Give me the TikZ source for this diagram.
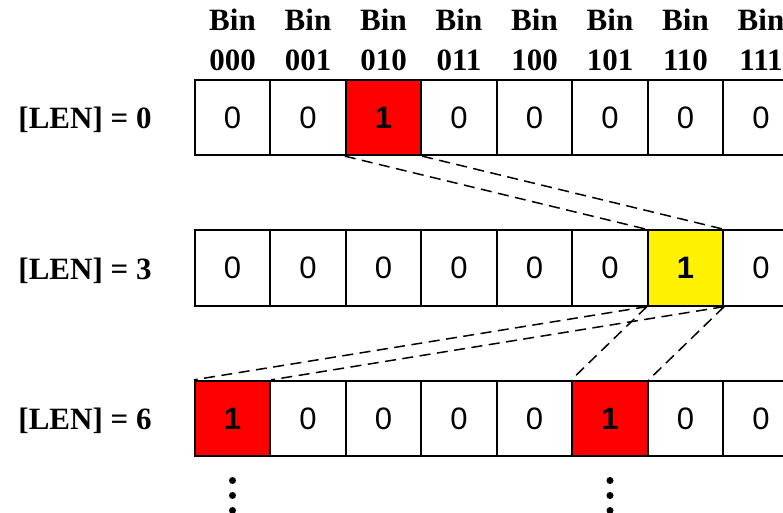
\documentclass[tikz,border=0pt]{standalone}
\usepackage{fontspec}
\setmainfont{Liberation Serif}
\setsansfont{Liberation Sans}
\usetikzlibrary{positioning}

\tikzset{
  bit/.style={draw,line width=1.8pt,minimum size=75.5pt,inner sep=0pt,
    font=\sffamily\fontsize{31}{34}\selectfont},
  hit/.style={bit,fill=red,font=\sffamily\bfseries\fontsize{31}{34}\selectfont},
  mid/.style={hit,fill=yellow},
  bin/.style={align=center,font=\bfseries\fontsize{31}{40}\selectfont},
  len/.style={anchor=base,font=\bfseries\fontsize{31}{34}\selectfont},
  link/.style={line width=1.5pt,dash pattern=on 11pt off 6.5pt},
  vdot/.style={circle,fill,inner sep=0pt,minimum size=7pt}
}

\begin{document}
\begin{tikzpicture}[x=1pt,y=1pt,node distance=75.5pt,on grid]
   \useasboundingbox (0,0) rectangle (783,-513);
   % row for [LEN] = 0
   \node[bit] (a1) at (232.5,-117.5) {0};
   \node[bit] (a2) [right=of a1] {0};
   \node[hit] (a3) [right=of a2] {1};
   \node[bit] (a4) [right=of a3] {0};
   \node[bit] (a5) [right=of a4] {0};
   \node[bit] (a6) [right=of a5] {0};
   \node[bit] (a7) [right=of a6] {0};
   \node[bit] (a8) [right=of a7] {0};
   % row for [LEN] = 3
   \node[bit] (b1) [below=150.5pt of a1] {0};
   \node[bit] (b2) [right=of b1] {0};
   \node[bit] (b3) [right=of b2] {0};
   \node[bit] (b4) [right=of b3] {0};
   \node[bit] (b5) [right=of b4] {0};
   \node[bit] (b6) [right=of b5] {0};
   \node[mid] (b7) [right=of b6] {1};
   \node[bit] (b8) [right=of b7] {0};
   % row for [LEN] = 6
   \node[hit] (c1) [below=150.5pt of b1] {1};
   \node[bit] (c2) [right=of c1] {0};
   \node[bit] (c3) [right=of c2] {0};
   \node[bit] (c4) [right=of c3] {0};
   \node[bit] (c5) [right=of c4] {0};
   \node[hit] (c6) [right=of c5] {1};
   \node[bit] (c7) [right=of c6] {0};
   \node[bit] (c8) [right=of c7] {0};
   % bin headers
   \node[bin] (h1) [above=78pt of a1] {Bin\\000};
   \node[bin] (h2) [above=78pt of a2] {Bin\\001};
   \node[bin] (h3) [above=78pt of a3] {Bin\\010};
   \node[bin] (h4) [above=78pt of a4] {Bin\\011};
   \node[bin] (h5) [above=78pt of a5] {Bin\\100};
   \node[bin] (h6) [above=78pt of a6] {Bin\\101};
   \node[bin] (h7) [above=78pt of a7] {Bin\\110};
   \node[bin] (h8) [above=78pt of a8] {Bin\\111};
   % row labels, set on their baselines
   \node[len] (l0) at (85,-128.5) {[LEN] = 0};
   \node[len] (l3) [below=150.5pt of l0] {[LEN] = 3};
   \node[len] (l6) [below=150.5pt of l3] {[LEN] = 6};
   % dashed links between rows
   \draw[link] (a3.south west) -- (b7.north west);
   \draw[link] (a3.south east) -- (b7.north east);
   \draw[link] (b7.south west) -- (c1.north west);
   \draw[link] (b7.south east) -- (c1.north east);
   \draw[link] (b7.south west) -- (c6.north west);
   \draw[link] (b7.south east) -- (c6.north east);
   % vertical dots
   \node[vdot] (d1) [below=62pt of c1] {};
   \node[vdot] (d2) [below=15pt of d1] {};
   \node[vdot] (d3) [below=15pt of d2] {};
   \node[vdot] (e1) [below=62pt of c6] {};
   \node[vdot] (e2) [below=15pt of e1] {};
   \node[vdot] (e3) [below=15pt of e2] {};
\end{tikzpicture}
\end{document}
